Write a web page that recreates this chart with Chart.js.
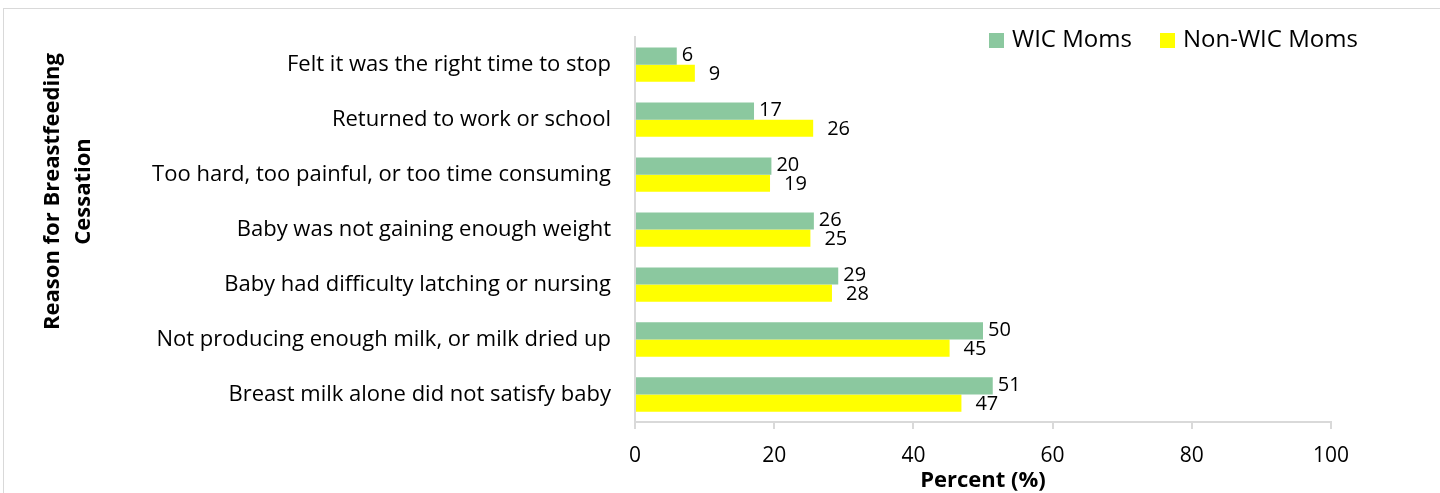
<!DOCTYPE html>
<html><head><meta charset="utf-8">
<script src="https://cdn.jsdelivr.net/npm/chart.js@4.4.1/dist/chart.umd.min.js"></script>
<style>
html,body{margin:0;padding:0;background:#fff;}
#wrap{position:relative;width:1440px;height:493px;overflow:hidden;}
#frame{position:absolute;left:3px;top:8px;width:1500px;height:600px;border:1px solid #d9d9d9;box-sizing:border-box;}
canvas{position:absolute;left:0;top:0;}
</style></head><body>
<div id="wrap"><div id="frame"></div><canvas id="c" width="1440" height="493"></canvas></div>
<script>
const categories = [
  'Felt it was the right time to stop',
  'Returned to work or school',
  'Too hard, too painful, or too time consuming',
  'Baby was not gaining enough weight',
  'Baby had difficulty latching or nursing',
  'Not producing enough milk, or milk dried up',
  'Breast milk alone did not satisfy baby'
];
const wicValues    = [6.0, 17.1, 19.6, 25.7, 29.2, 50.0, 51.4];
const nonWicValues = [8.6, 25.6, 19.4, 25.2, 28.3, 45.2, 46.9];
const seriesNames = ['WIC Moms', 'Non-WIC Moms'];
const xTickValues = [0, 20, 40, 60, 80, 100];
const xTitle = 'Percent (%)';
const yTitleLines = ['Reason for Breastfeeding', 'Cessation'];

const FONT = '"Open Sans"';
const GREEN = '#8BC89F';
const YELLOW = '#FFFF00';

const valueLabels = {
  id: 'valueLabels',
  afterDatasetsDraw(chart) {
    const ctx = chart.ctx;
    ctx.save();
    ctx.font = '20px ' + FONT;
    ctx.fillStyle = '#000';
    ctx.textAlign = 'left';
    ctx.textBaseline = 'middle';
    chart.data.datasets.forEach((ds, i) => {
      const meta = chart.getDatasetMeta(i);
      meta.data.forEach((el, j) => {
        ctx.fillText(String(Math.round(ds.data[j])), el.x + ds.labelOffset, el.y + ds.labelDy);
      });
    });
    ctx.restore();
  }
};

const customLegend = {
  id: 'customLegend',
  afterDraw(chart, args, opts) {
    const ctx = chart.ctx;
    ctx.save();
    ctx.font = '24px ' + FONT;
    ctx.textBaseline = 'middle';
    ctx.textAlign = 'left';
    chart.data.datasets.forEach((ds, i) => {
      const x = opts.starts[i];
      ctx.fillStyle = ds.backgroundColor;
      ctx.fillRect(x, opts.top, opts.box, opts.box);
      ctx.fillStyle = '#000';
      ctx.fillText(ds.label, x + opts.box + opts.gap, opts.top + opts.box / 2);
    });
    ctx.restore();
  }
};

const yTitle = {
  id: 'yTitle',
  afterDraw(chart, args, opts) {
    const ctx = chart.ctx;
    ctx.save();
    ctx.font = 'bold 22px ' + FONT;
    ctx.fillStyle = '#000';
    ctx.textAlign = 'center';
    ctx.textBaseline = 'middle';
    yTitleLines.forEach((t, i) => {
      ctx.save();
      ctx.translate(opts.xs[i], opts.cy);
      ctx.rotate(-Math.PI / 2);
      ctx.fillText(t, 0, 0);
      ctx.restore();
    });
    ctx.restore();
  }
};

new Chart(document.getElementById('c'), {
  type: 'bar',
  data: {
    labels: categories,
    datasets: [
      { label: seriesNames[0], data: wicValues, backgroundColor: GREEN, labelOffset: 5, labelDy: -1 },
      { label: seriesNames[1], data: nonWicValues, backgroundColor: YELLOW, labelOffset: 14, labelDy: 1 }
    ]
  },
  options: {
    indexAxis: 'y',
    responsive: false,
    animation: false,
    devicePixelRatio: 1,
    layout: { padding: { top: 33, right: 109, left: 0, bottom: 0 } },
    datasets: { bar: { categoryPercentage: 0.625, barPercentage: 1 } },
    plugins: {
      legend: { display: false },
      tooltip: { enabled: false },
      customLegend: { starts: [989, 1160], top: 33, box: 15, gap: 8 },
      yTitle: { xs: [53, 84], cy: 191.5 }
    },
    scales: {
      x: {
        min: 0, max: 100,
        afterBuildTicks: s => { s.ticks = xTickValues.map(v => ({ value: v })); },
        ticks: { font: { family: FONT, size: 21 }, color: '#000', padding: 14, maxRotation: 0 },
        grid: { display: true, drawOnChartArea: false, drawTicks: true, tickLength: 7, color: '#d9d9d9', lineWidth: 2 },
        border: { display: true, color: '#d9d9d9', width: 2 },
        title: { display: true, text: xTitle, font: { family: FONT, size: 22, weight: 'bold', lineHeight: 1 }, color: '#000', padding: { top: 0, bottom: 1 } },
        afterFit: s => { s.height = 71; }
      },
      y: {
        ticks: { font: { family: FONT, size: 22 }, color: '#000', padding: 24 },
        grid: { display: true, drawOnChartArea: false, drawTicks: false },
        border: { display: true, color: '#d9d9d9', width: 2 },
        afterFit: s => { s.width = 635; }
      }
    }
  },
  plugins: [valueLabels, customLegend, yTitle]
});
</script>
</body></html>
